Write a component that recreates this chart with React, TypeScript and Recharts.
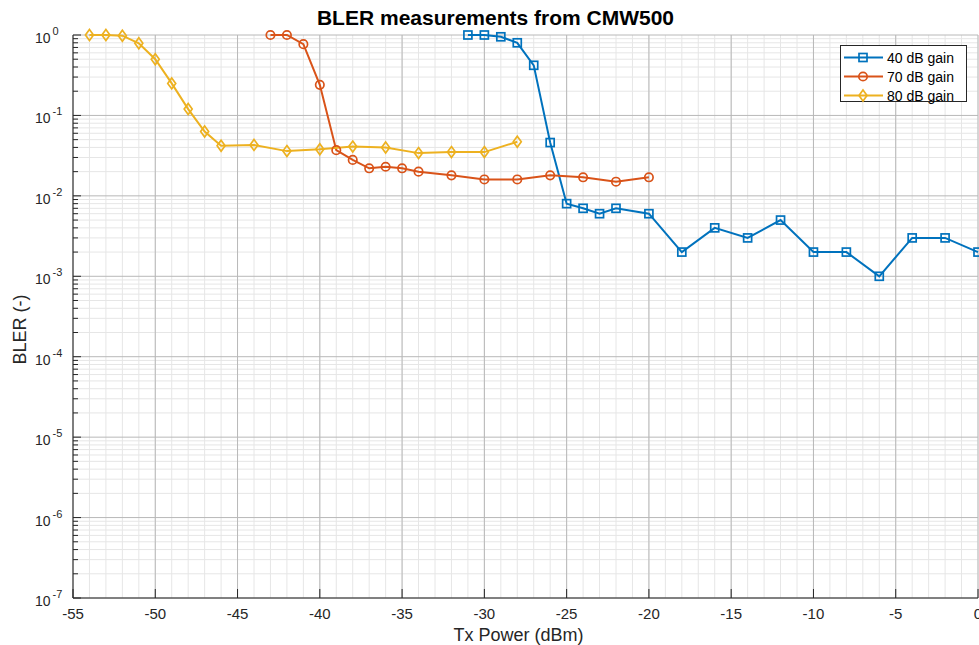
import React from 'react'
import { CartesianGrid, Legend, Line, LineChart, XAxis, YAxis } from 'recharts'

// Tx power (dBm) and measured BLER for each gain setting
const gain40Tx = [-31, -30, -29, -28, -27, -26, -25, -24, -23, -22, -20, -18, -16, -14, -12, -10, -8, -6, -4, -2, 0]
const gain40Bler = [1.0, 1.0, 0.95, 0.8, 0.42, 0.046, 0.008, 0.007, 0.006, 0.007, 0.006, 0.002, 0.004, 0.003, 0.005, 0.002, 0.002, 0.001, 0.003, 0.003, 0.002]

const gain70Tx = [-43, -42, -41, -40, -39, -38, -37, -36, -35, -34, -32, -30, -28, -26, -24, -22, -20]
const gain70Bler = [1.0, 1.0, 0.77, 0.24, 0.037, 0.028, 0.022, 0.023, 0.022, 0.02, 0.018, 0.016, 0.016, 0.018, 0.017, 0.015, 0.017]

const gain80Tx = [-54, -53, -52, -51, -50, -49, -48, -47, -46, -44, -42, -40, -38, -36, -34, -32, -30, -28]
const gain80Bler = [1.0, 1.0, 0.98, 0.79, 0.5, 0.25, 0.12, 0.063, 0.042, 0.043, 0.036, 0.038, 0.041, 0.04, 0.034, 0.035, 0.035, 0.047]

const xMajorTicks = [-55, -50, -45, -40, -35, -30, -25, -20, -15, -10, -5, 0]
const xMinorTicks = Array.from({ length: 56 }, (_, i) => -55 + i)
const yDecades = [1e-7, 1e-6, 1e-5, 1e-4, 1e-3, 1e-2, 1e-1, 1]
const yMinorSteps = [2, 3, 4, 5, 6, 7, 8, 9]
const yMinorTicks = yDecades.slice(0, -1).flatMap(d => yMinorSteps.map(m => m * d))
const yAllTicks = [...yDecades, ...yMinorTicks].sort((a, b) => a - b)

const FONT = '"Liberation Sans", Arial, Helvetica, sans-serif'
const AXIS = '#262626'

const toRows = (xs: number[], ys: number[]) => xs.map((tx, i) => ({ tx, bler: ys[i] }))

const series = [
  { name: '40 dB gain', data: toRows(gain40Tx, gain40Bler), color: '#0072BD', shape: 'square' },
  { name: '70 dB gain', data: toRows(gain70Tx, gain70Bler), color: '#D95319', shape: 'circle' },
  { name: '80 dB gain', data: toRows(gain80Tx, gain80Bler), color: '#EDB120', shape: 'diamond' },
]

const isDecade = (v: number) => yDecades.some(d => Math.abs(v / d - 1) < 1e-6)

function Marker({ cx, cy, color, shape }: any) {
  if (cx == null || cy == null) return null
  const common = { fill: 'none', stroke: color, strokeWidth: 1.7 }
  if (shape === 'square') return <rect x={cx - 4} y={cy - 4} width={8} height={8} {...common} />
  if (shape === 'circle') return <circle cx={cx} cy={cy} r={4.2} {...common} />
  return <path d={`M${cx},${cy - 5.5}L${cx + 4},${cy}L${cx},${cy + 5.5}L${cx - 4},${cy}Z`} {...common} />
}

const LeftTick = ({ x, y, payload }: any) => {
  const major = isDecade(payload.value)
  const exp = Math.round(Math.log10(payload.value))
  return (
    <g>
      <line x1={x} x2={x + (major ? 8 : 5)} y1={y} y2={y} stroke={AXIS} />
      {major && (
        <text x={x - 38} y={y + 8} fontFamily={FONT} fontSize={14} fill={AXIS}>
          10
          <tspan dx={2} dy={-8} fontSize={11}>{exp}</tspan>
        </text>
      )}
    </g>
  )
}

const RightTick = ({ x, y, payload }: any) => {
  const major = isDecade(payload.value)
  return <line x1={x} x2={x - (major ? 8 : 5)} y1={y} y2={y} stroke={AXIS} />
}

const BottomTick = ({ x, y, payload }: any) => (
  <g>
    <line x1={x} x2={x} y1={y} y2={y - 9} stroke={AXIS} />
    <text x={x} y={y + 21} textAnchor="middle" fontFamily={FONT} fontSize={15} fill={AXIS}>
      {payload.value}
    </text>
  </g>
)

const TopTick = ({ x, y }: any) => <line x1={x} x2={x} y1={y} y2={y + 9} stroke={AXIS} />

const XLabel = ({ viewBox }: any) => (
  <text
    x={viewBox.x + viewBox.width / 2 - 7}
    y={viewBox.y + 43}
    textAnchor="middle"
    fontFamily={FONT}
    fontSize={18}
    fill={AXIS}
  >
    Tx Power (dBm)
  </text>
)

const YLabel = ({ viewBox }: any) => {
  const cx = viewBox.x + 20
  const cy = viewBox.y + viewBox.height / 2 + 13
  return (
    <text
      x={cx}
      y={cy}
      transform={`rotate(-90 ${cx} ${cy})`}
      textAnchor="middle"
      dominantBaseline="central"
      fontFamily={FONT}
      fontSize={18}
      fill={AXIS}
    >
      BLER (-)
    </text>
  )
}

const LegendBox = () => (
  <div
    style={{
      boxSizing: 'border-box',
      width: 127,
      height: 57,
      border: `1px solid ${AXIS}`,
      background: '#fff',
      paddingTop: 2,
      fontFamily: FONT,
    }}
  >
    {series.map(s => (
      <div key={s.name} style={{ display: 'flex', alignItems: 'center', height: 19 }}>
        <svg width={44} height={19} style={{ display: 'block' }}>
          <line x1={3} x2={42} y1={9.5} y2={9.5} stroke={s.color} strokeWidth={2} />
          <Marker cx={22} cy={9.5} color={s.color} shape={s.shape} />
        </svg>
        <span style={{ fontSize: 14, marginLeft: 2, color: '#000', whiteSpace: 'nowrap' }}>{s.name}</span>
      </div>
    ))}
  </div>
)

export default function App() {
  return (
    <div style={{ position: 'absolute', left: 0, top: 0, width: 979, height: 645, background: '#fff' }}>
      <div
        style={{
          position: 'absolute',
          top: 7,
          left: 0,
          width: 991,
          textAlign: 'center',
          fontFamily: FONT,
          fontSize: 21,
          fontWeight: 'bold',
          lineHeight: '21px',
          color: '#000',
          zIndex: 2,
        }}
      >
        BLER measurements from CMW500
      </div>
      <LineChart width={979} height={645} margin={{ top: 35, right: 1, bottom: 0, left: 0 }}>
        <CartesianGrid verticalValues={xMinorTicks} horizontalValues={yMinorTicks} stroke="#e6e6e6" />
        <CartesianGrid verticalValues={xMajorTicks} horizontalValues={yDecades} stroke="#b8b8b8" />
        <XAxis
          type="number"
          dataKey="tx"
          domain={[-55, 0]}
          ticks={xMajorTicks}
          interval={0}
          tickLine={false}
          tickSize={0}
          tickMargin={0}
          tick={<BottomTick />}
          axisLine={{ stroke: AXIS }}
          height={47}
          label={<XLabel />}
        />
        <XAxis
          xAxisId="top"
          orientation="top"
          type="number"
          dataKey="tx"
          domain={[-55, 0]}
          allowDataOverflow
          ticks={xMajorTicks}
          interval={0}
          tickLine={false}
          tickSize={0}
          tickMargin={0}
          tick={<TopTick />}
          axisLine={{ stroke: AXIS }}
          height={0}
        />
        <YAxis
          scale="log"
          domain={[1e-7, 1]}
          ticks={yAllTicks}
          interval={0}
          tickLine={false}
          tickSize={0}
          tickMargin={0}
          tick={<LeftTick />}
          axisLine={{ stroke: AXIS }}
          width={73}
          label={<YLabel />}
        />
        <YAxis
          yAxisId="right"
          orientation="right"
          scale="log"
          domain={[1e-7, 1]}
          allowDataOverflow
          ticks={yAllTicks}
          interval={0}
          tickLine={false}
          tickSize={0}
          tickMargin={0}
          tick={<RightTick />}
          axisLine={{ stroke: AXIS }}
          width={0}
        />
        {series.map(s => (
          <Line
            key={s.name}
            name={s.name}
            data={s.data}
            dataKey="bler"
            type="linear"
            stroke={s.color}
            strokeWidth={2}
            isAnimationActive={false}
            activeDot={false}
            dot={(p: any) => <Marker key={`${s.name}-${p.index}`} cx={p.cx} cy={p.cy} color={s.color} shape={s.shape} />}
          />
        ))}
        <Legend
          layout="vertical"
          align="center"
          verticalAlign="middle"
          content={<LegendBox />}
          wrapperStyle={{ left: 840, top: 45, right: 'auto', bottom: 'auto', width: 127, height: 57 }}
        />
      </LineChart>
    </div>
  )
}
